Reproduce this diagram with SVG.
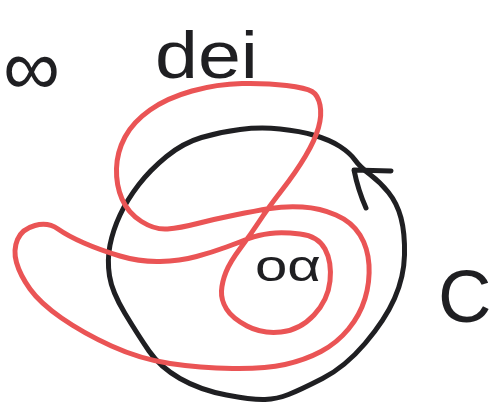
<svg xmlns="http://www.w3.org/2000/svg" width="496" height="405" viewBox="0 0 496 405">
<style>
.ink{fill:none;stroke:#1f1f22;stroke-width:5;stroke-linecap:round;stroke-linejoin:round}
.red{fill:none;stroke:#ea5455;stroke-width:5;stroke-linecap:round;stroke-linejoin:round}
.lbl{fill:#1f1f22;font-family:"Liberation Sans","DejaVu Sans",sans-serif}
</style>
<rect width="496" height="405" fill="#ffffff"/>
<g id="contour-C">
<path class="ink" d="M355,160 Q360,167 370,174.5 Q380,182 388.5,192.5 Q397,203 401,218 Q405,233 404.5,255 Q404,277 394.5,298.5 Q385,320 365,343.5 Q345,367 322.5,378.5 Q300,390 288.5,394.5 Q277,399 265,399.5 Q253,400 226.5,395 Q200,390 180,378.5 Q160,367 149,351 Q138,335 125,313.5 Q112,292 109.5,276 Q107,260 110,245 Q113,230 120,215 Q127,200 138.5,185 Q150,170 166.5,156.5 Q183,143 201.5,137.5 Q220,132 240,129.5 Q260,127 280,129 Q300,131 315,135.5 Q330,140 340,146.5 Q350,153 355,160 Z"/>
</g>
<g id="connectors">
<path class="ink" d="M391,171 L354,170 Q358,190 366,208"/>
</g>
<g id="red-curve">
<path class="red" d="M221.5,291 Q222,282 226,272 Q230,262 240.5,248 Q251,234 259.5,221 Q268,208 282,190 Q296,172 305.5,156 Q315,140 318.5,127.5 Q322,115 320,105 Q318,95 312,91.5 Q306,88 286.5,85.5 Q267,83 242,83.5 Q217,84 192,91 Q167,98 150,110 Q133,122 125,137 Q117,152 116.5,168.5 Q116,185 122,199 Q128,213 141.5,221.5 Q155,230 167.5,229 Q180,228 197.5,223.5 Q215,219 235,215 Q255,211 270,208.5 Q285,206 302.5,207 Q320,208 336,215 Q352,222 360,235 Q368,248 369,265 Q370,282 365,298.5 Q360,315 348.5,329 Q337,343 321,351.5 Q305,360 285,364.5 Q265,369 232.5,368.5 Q200,368 170,363.5 Q140,359 111.5,346 Q83,333 61.5,318 Q40,303 30,289 Q20,275 16.5,262.5 Q13,250 17.5,239.5 Q22,229 35,225.5 Q48,222 58,229 Q68,236 84,243 Q100,250 120,256 Q140,262 160,261.5 Q180,261 196.5,256.5 Q213,252 226.5,247 Q240,242 249,238.5 Q258,235 270,233.5 Q282,232 300,234 Q318,236 325,249 Q332,262 330,281 Q328,300 314,315 Q300,330 281,332 Q262,334 247,326 Q232,318 226.5,309 Q221,300 221.5,291 Z"/>
</g>
<g id="label-inf"><text class="lbl" x="3" y="95" font-size="80" font-family="DejaVu Sans">∞</text></g>
<g id="label-dei"><text class="lbl" x="155" y="78" font-size="66" textLength="103" lengthAdjust="spacingAndGlyphs">dei</text></g>
<g id="label-oa"><text class="lbl" x="255" y="281" font-size="44" textLength="66" lengthAdjust="spacingAndGlyphs">oα</text></g>
<g id="label-C"><text class="lbl" x="438" y="322" font-size="74">C</text></g>
</svg>
